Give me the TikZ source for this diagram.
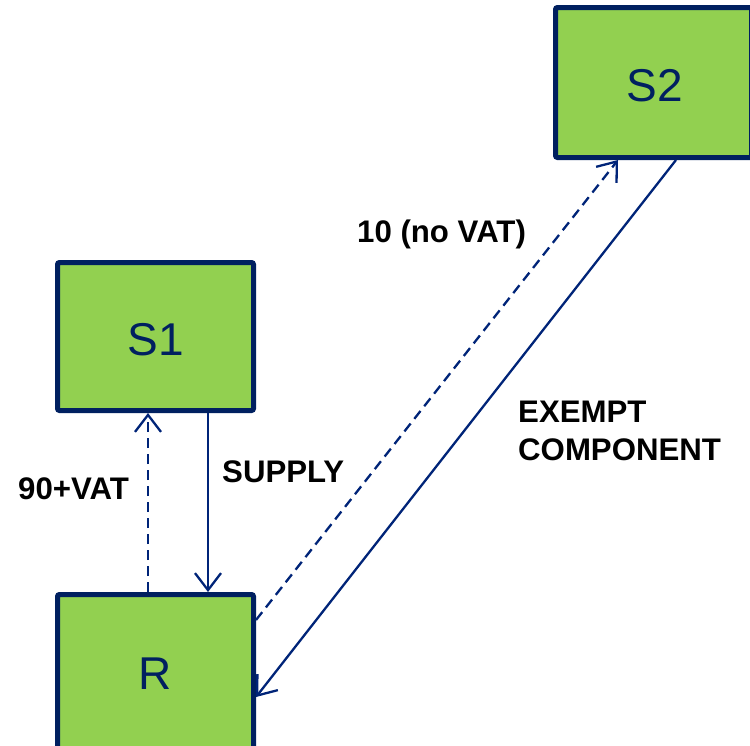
\documentclass[tikz,border=0pt]{standalone}
\usepackage{fontspec}
\setmainfont{Liberation Sans}
\usetikzlibrary{arrows.meta}
\definecolor{boxgreen}{RGB}{146,208,80}
\definecolor{boxnavy}{RGB}{0,32,96}
\definecolor{linknavy}{RGB}{0,36,120}
\tikzset{
  party/.style={draw=boxnavy, fill=boxgreen, line width=5pt, rounded corners=2pt,
    minimum width=196pt, minimum height=148pt, inner sep=0pt,
    text=boxnavy, font=\fontsize{46}{52}\selectfont},
  flow/.style={draw=linknavy, line width=2.3pt,
    -{Straight Barb[length=17pt,width=26pt,line width=2.3pt]}},
  payment/.style={flow, dash pattern=on 10pt off 6pt},
  tag/.style={inner sep=0pt, font=\fontsize{31.2}{38}\selectfont\bfseries, text=black}
}
\begin{document}
\begin{tikzpicture}[x=1pt,y=-1pt]
  \useasboundingbox (0,0) rectangle (750,745);
  \clip (0,0) rectangle (750,745);
  % trading parties
  \node[party] (S1) at (155.5,336.5) {};
  \node[party, minimum height=157pt] (R) at (155.5,673) {};
  \node[party, minimum height=150pt] (S2) at (653.5,82.5) {};
  \node[text=boxnavy, font=\fontsize{46}{52}\selectfont] (S1t) at (155.5,340) {S1};
  \node[text=boxnavy, font=\fontsize{46}{52}\selectfont] (Rt) at (155.5,674) {R};
  \node[text=boxnavy, font=\fontsize{46}{52}\selectfont] (S2t) at (655,86) {S2};
  % flows between the parties
  \draw[payment] ([xshift=-7.5pt]R.north) -- ([xshift=-7.5pt]S1.south);
  \draw[flow] ([xshift=52.5pt]S1.south) -- ([xshift=52.5pt]R.north);
  \draw[payment] ([yshift=53pt]R.east) -- ([xshift=-35.5pt]S2.south);
  \draw[flow] ([xshift=22.5pt]S2.south) -- ([yshift=-24pt]R.east);
  % labels
  \node[tag, anchor=west] (lnovat) at (357,234) {10 (no VAT)};
  \node[tag, anchor=west, align=left] (lexempt) at (518,431) {EXEMPT\\COMPONENT};
  \node[tag, anchor=west] (lsupply) at (222,472) {SUPPLY};
  \node[tag, anchor=west] (lvat) at (18,489) {90+VAT};
\end{tikzpicture}
\end{document}
